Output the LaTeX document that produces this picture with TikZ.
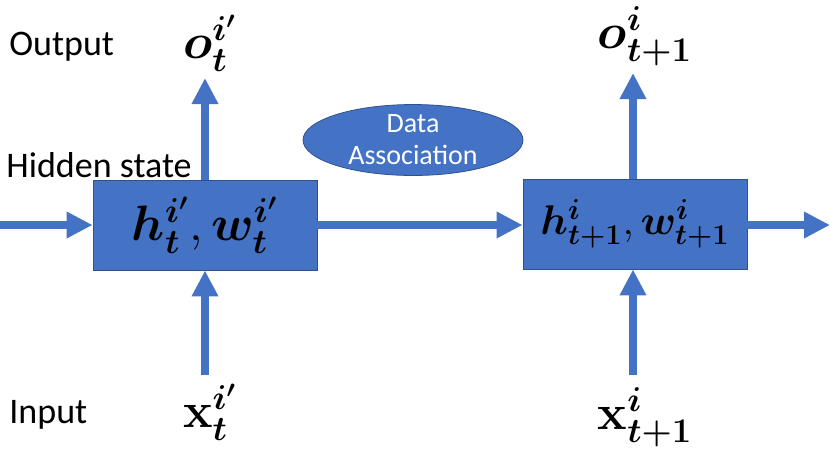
\documentclass[tikz,border=0pt]{standalone}
\usepackage{amsmath,amssymb,bm}
\usepackage[no-math]{fontspec}
\setmainfont{Carlito}
\usetikzlibrary{shapes.geometric, arrows.meta, positioning}

\definecolor{cellblue}{HTML}{4472C4}
\definecolor{rimblue}{HTML}{2F528F}

\begin{document}
\begin{tikzpicture}[
    x=0.5pt, y=-0.5pt,
    font=\fontsize{18}{21}\selectfont,
    cell/.style={rectangle, draw=rimblue, fill=cellblue, minimum width=112pt, minimum height=45pt, inner sep=0pt, font=\fontsize{25}{29}\selectfont},
    assoc/.style={ellipse, draw=rimblue, fill=cellblue, minimum width=110pt, minimum height=35pt, inner sep=0pt, text=white, align=center, font=\fontsize{14}{16}\selectfont},
    mathlabel/.style={inner sep=1pt, font=\fontsize{23}{27}\selectfont},
    rowlabel/.style={anchor=west, inner sep=0pt},
    flow/.style={cellblue, line width=4pt, -{Triangle[length=13pt, width=12.5pt]}}
]
\useasboundingbox (0,0) rectangle (830,457);

% Cells
\node (cell1) [cell] at (205,225) {$\bm{h}^{\bm{i'}}_{\bm{t}},\bm{w}^{\bm{i'}}_{\bm{t}}$};
\node (cell2) [cell, font=\fontsize{22}{26}\selectfont] at (635,224) {$\bm{h}^{\bm{i}}_{\bm{t+1}},\bm{w}^{\bm{i}}_{\bm{t+1}}$};
\node (assoc) [assoc] at (413,140) {Data\\Association};

% Outputs and inputs
\node (out1) [mathlabel] at (210,43) {$\bm{o}^{\bm{i'}}_{\bm{t}}$};
\node (out2) [mathlabel] at (645,36) {$\bm{o}^{\bm{i}}_{\bm{t+1}}$};
\node (in1) [mathlabel] at (210,412) {$\mathbf{x}^{\bm{i'}}_{\bm{t}}$};
\node (in2) [mathlabel] at (645,417) {$\mathbf{x}^{\bm{i}}_{\bm{t+1}}$};

% Row labels
\node (lout) [rowlabel] at (9,47) {Output};
\node (lhid) [rowlabel] at (6,165) {Hidden state};
\node (lin) [rowlabel] at (9,415) {Input};

% Free ends
\coordinate (hin) at (0,225);
\coordinate (hout) at (830,225);
\coordinate (tip1) at (205,78);
\coordinate (tip2) at (633,73);
\coordinate (tail1) at (205,375);
\coordinate (tail2) at (633,375);

% Arrows
\draw [flow] (hin) -- (cell1.west);
\draw [flow] (cell1.east) -- (cell1.east -| cell2.west);
\draw [flow] (cell2.east |- hout) -- (hout);
\draw [flow] (cell1.north) -- (tip1);
\draw [flow] (cell2.north -| tip2) -- (tip2);
\draw [flow] (tail1) -- (cell1.south);
\draw [flow] (tail2) -- (tail2 |- cell2.south);

\end{tikzpicture}
\end{document}
